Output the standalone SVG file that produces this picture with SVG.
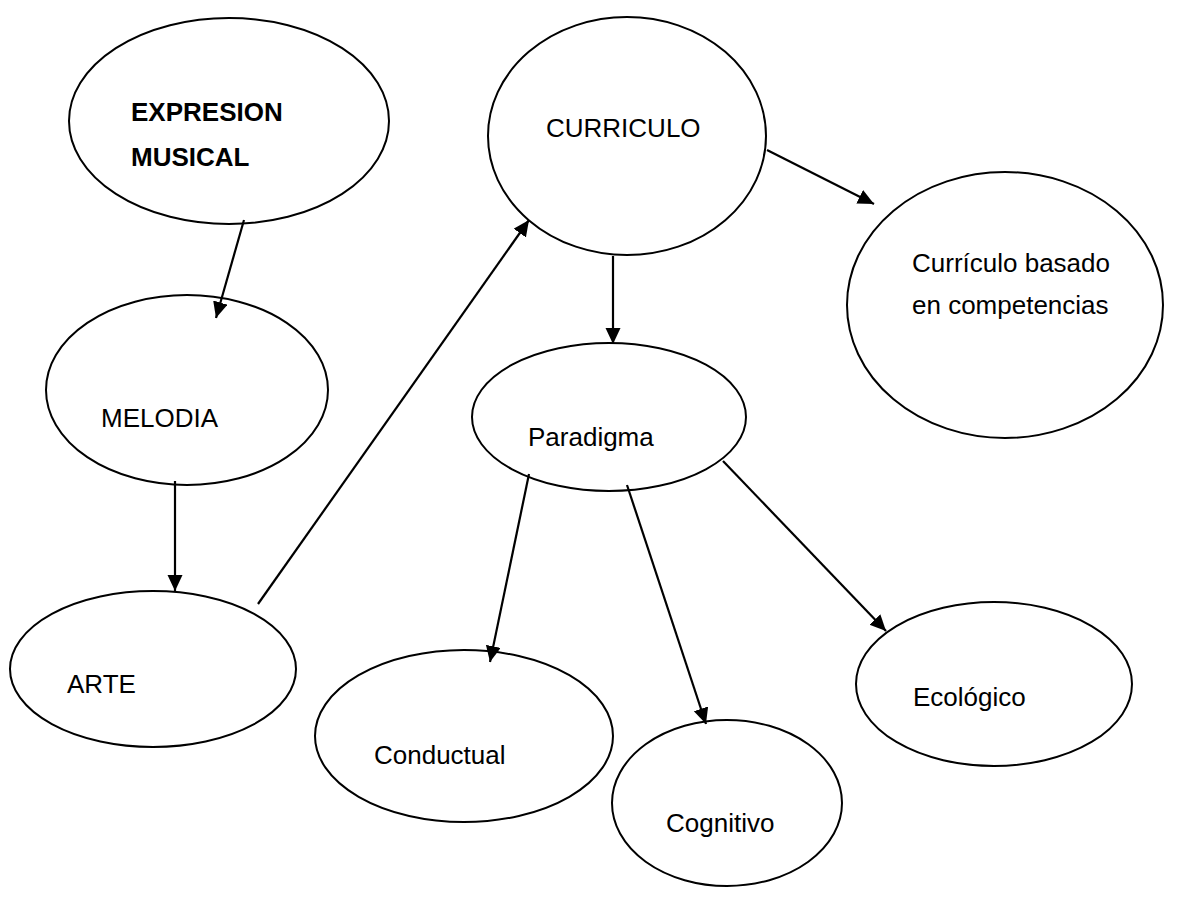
<svg xmlns="http://www.w3.org/2000/svg" width="1185" height="912" viewBox="0 0 1185 912">
<style>
.n ellipse{fill:#fff;stroke:#000;stroke-width:2}
.n text{font-family:"Liberation Sans",Arial,sans-serif;font-size:26px;fill:#000}
.b{font-weight:bold}
.c line{stroke:#000;stroke-width:2.2}
</style>
<defs>
<marker id="ah" markerUnits="userSpaceOnUse" markerWidth="18" markerHeight="16" refX="16" refY="7.5" orient="auto">
<path d="M0,0 L16,7.5 L0,15 z" fill="#000"/>
</marker>
</defs>
<rect width="1185" height="912" fill="#fff"/>
<g id="expresion" class="n"><ellipse cx="229" cy="121" rx="160" ry="103"/><text class="b" x="131" y="121">EXPRESION</text><text class="b" x="131" y="166">MUSICAL</text></g>
<g id="curriculo" class="n"><ellipse cx="627" cy="136" rx="139" ry="119"/><text x="546" y="137">CURRICULO</text></g>
<g id="competencias" class="n"><ellipse cx="1005" cy="305" rx="158" ry="133"/><text x="912" y="272">Currículo basado</text><text x="912" y="314">en competencias</text></g>
<g id="melodia" class="n"><ellipse cx="187" cy="390" rx="141" ry="95"/><text x="101" y="427">MELODIA</text></g>
<g id="paradigma" class="n"><ellipse cx="609" cy="417" rx="137" ry="74"/><text x="528" y="446">Paradigma</text></g>
<g id="arte" class="n"><ellipse cx="153" cy="669" rx="143" ry="78"/><text x="67" y="693">ARTE</text></g>
<g id="conductual" class="n"><ellipse cx="464" cy="736" rx="149" ry="86"/><text x="374" y="764">Conductual</text></g>
<g id="cognitivo" class="n"><ellipse cx="727" cy="803" rx="115" ry="83"/><text x="666" y="832">Cognitivo</text></g>
<g id="ecologico" class="n"><ellipse cx="994" cy="684" rx="138" ry="82"/><text x="913" y="706">Ecológico</text></g>
<g id="connectors" class="c">
<line x1="244" y1="220" x2="216" y2="318" marker-end="url(#ah)"/>
<line x1="175" y1="481" x2="175" y2="591" marker-end="url(#ah)"/>
<line x1="258" y1="604" x2="529" y2="220" marker-end="url(#ah)"/>
<line x1="613" y1="256" x2="613" y2="344" marker-end="url(#ah)"/>
<line x1="767" y1="150" x2="874" y2="204" marker-end="url(#ah)"/>
<line x1="529" y1="474" x2="490" y2="662" marker-end="url(#ah)"/>
<line x1="627" y1="485" x2="706" y2="724" marker-end="url(#ah)"/>
<line x1="723" y1="461" x2="886" y2="631" marker-end="url(#ah)"/>
</g>
</svg>
